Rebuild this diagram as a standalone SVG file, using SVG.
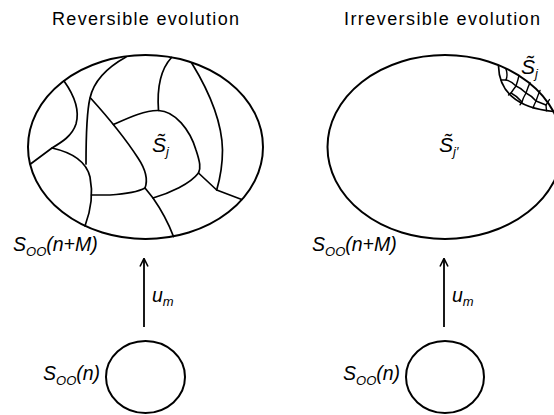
<svg xmlns="http://www.w3.org/2000/svg" width="554" height="415" viewBox="0 0 554 415">
<style>
.bg{fill:#fff}
.shape{fill:none;stroke:#000;stroke-width:2}
.cell{fill:none;stroke:#000;stroke-width:1.7;stroke-linejoin:round;stroke-linecap:round}
.fine{fill:none;stroke:#000;stroke-width:1.4;stroke-linejoin:round;stroke-linecap:round}
.title{font-family:"Liberation Sans",Arial,sans-serif;font-size:18px;fill:#000}
.lab{font-family:"Liberation Sans",Arial,sans-serif;font-style:italic;font-size:19.5px;fill:#000}
.big{font-size:21px}
.sub{font-size:13px}
.conn{fill:none;stroke:#000;stroke-width:1.8}
</style>
<defs>
<marker id="arr" viewBox="0 0 10 10" refX="9" refY="5" markerWidth="10" markerHeight="10" markerUnits="userSpaceOnUse" orient="auto">
<path d="M1,1 L9,5 L1,9" fill="none" stroke="#000" stroke-width="1.6"/>
</marker>
</defs>
<rect class="bg" x="0" y="0" width="554" height="415"/>

<text class="title" x="52" y="25" textLength="187" lengthAdjust="spacing">Reversible evolution</text>
<text class="title" x="344" y="25" textLength="196" lengthAdjust="spacing">Irreversible evolution</text>

<g id="left-big">
<ellipse class="shape" cx="145.5" cy="147" rx="117.5" ry="92"/>
<path class="cell" d="M64,81 C74,95 80,110 76,124 C72,136 62,142 52,148 L30.5,164"/>
<path class="cell" d="M52,148 C70,152 86,160 90,177 C93,192 91,210 85,226"/>
<path class="cell" d="M126,57 C108,67 94,80 90,98 C86,115 86,145 86,164"/>
<path class="cell" d="M90.5,98 C105,114 125,138 138,158 C146,170 148,180 145,188"/>
<path class="cell" d="M91.5,195 L110,195 C125,194 138,192 145,188 L153,198 C160,208 168,222 173.5,236.5"/>
<path class="cell" d="M153,198 C170,193 190,184 198.5,173"/>
<path class="cell" d="M113.5,124.5 C128,118 145,110 158.5,110.5 C175,111 190,130 196,150 C200,162 201,168 198.5,173 L216.7,190 L241.7,199.5"/>
<path class="cell" d="M171.5,57.5 C160,70 157,90 158.5,110.5"/>
<path class="cell" d="M191.7,63 C207,88 222,120 222.5,150 C222.5,170 219,182 216.7,190"/>
<text class="lab big" x="152" y="152">S&#x303;<tspan class="sub" dy="4">j</tspan></text>
</g>

<g id="right-big">
<ellipse class="shape" cx="445" cy="147" rx="117.5" ry="92"/>
<path class="cell" d="M498.5,66 C499,90 515,108 553.5,111.5"/>
<path class="fine" d="M506,69 Q508,75 506,80 Q503,80 500.8,80"/>
<path class="fine" d="M506,80 Q511,81 516,86 Q518,80 519,75.5"/>
<path class="fine" d="M516,86 Q513,90 511,93 Q509,94 508.5,95"/>
<path class="fine" d="M516,86 Q521,88 526,93 Q528,87 530,82.6"/>
<path class="fine" d="M511,93 Q517,96 522,102 L520,104.8"/>
<path class="fine" d="M526,93 Q523,98 522,102"/>
<path class="fine" d="M526,93 Q532,96 536,101 Q538,95 540,90.5"/>
<path class="fine" d="M536,101 Q534,105 533,108"/>
<path class="fine" d="M536,101 Q541,103 546,105 Q548,102 549.5,99.5"/>
<path class="fine" d="M546,105 L546.5,110.8"/>
<text class="lab big" x="439" y="152">S&#x303;<tspan class="sub" dy="4">j&#x2032;</tspan></text>
<text class="lab big" x="521" y="74">S&#x303;<tspan class="sub" dy="4">j</tspan></text>
</g>

<g id="left-label-top"><text class="lab" x="13" y="251">S<tspan class="sub" dy="5">OO</tspan><tspan dy="-5">(n+M)</tspan></text></g>
<g id="right-label-top"><text class="lab" x="312" y="251">S<tspan class="sub" dy="5">OO</tspan><tspan dy="-5">(n+M)</tspan></text></g>

<g id="left-small">
<ellipse class="shape" cx="145.5" cy="377" rx="39.5" ry="36"/>
<text class="lab" x="43" y="380">S<tspan class="sub" dy="5">OO</tspan><tspan dy="-5">(n)</tspan></text>
</g>
<g id="right-small">
<ellipse class="shape" cx="445" cy="377" rx="39" ry="36"/>
<text class="lab" x="343" y="380">S<tspan class="sub" dy="5">OO</tspan><tspan dy="-5">(n)</tspan></text>
</g>

<g id="connectors">
<line class="conn" x1="144" y1="327" x2="144" y2="258.5" marker-end="url(#arr)"/>
<line class="conn" x1="444" y1="327" x2="444" y2="258.5" marker-end="url(#arr)"/>
<text class="lab" x="152" y="302">u<tspan class="sub" dy="4">m</tspan></text>
<text class="lab" x="452" y="302">u<tspan class="sub" dy="4">m</tspan></text>
</g>
</svg>
